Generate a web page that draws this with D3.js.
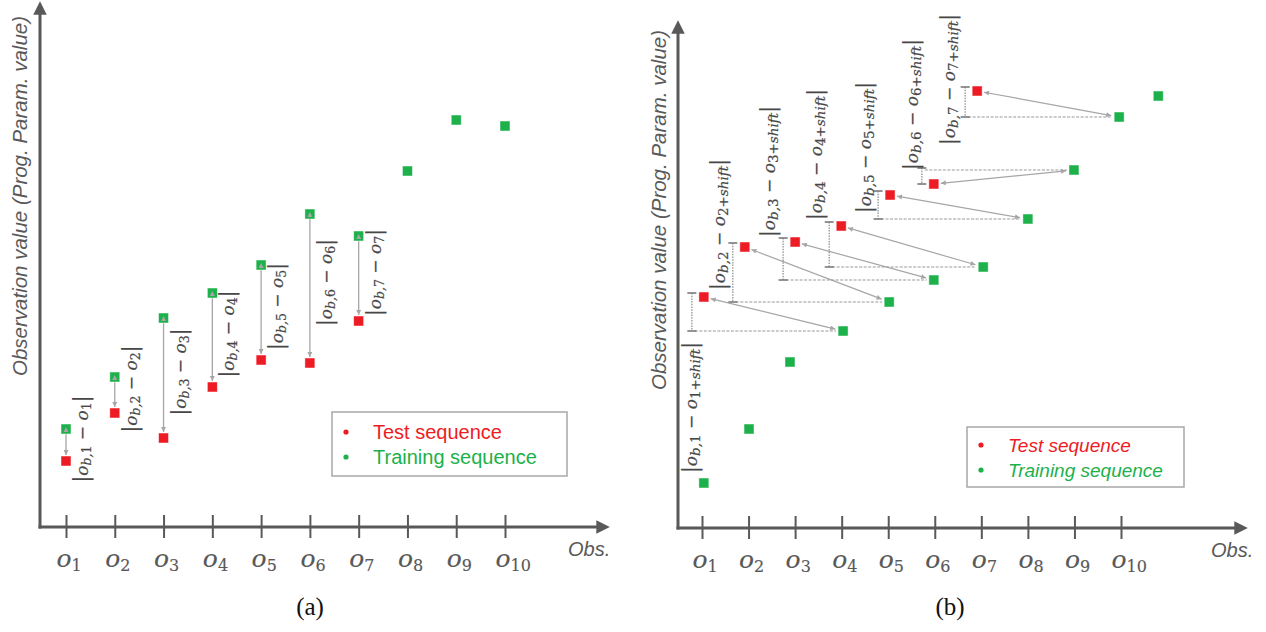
<!DOCTYPE html>
<meta charset="utf-8">
<style>
  body { margin: 0; background: #fff; }
  svg { display: block; }
</style>
<body>
<script src="https://d3js.org/d3.v7.min.js"></script>
<script>
  // observation indices shown on the x axis
  var obsIdx = [1, 2, 3, 4, 5, 6, 7, 8, 9, 10];
  var obsLabels = ["1", "2", "3", "4", "5", "6", "7", "8", "9", "10"];

  // panel (a): training and test value for each observation
  var trainA = [19.6, 30, 41.8, 46.8, 52.4, 62.6, 58.2, 71.2, 81.4, 80.2];
  var testA = [13.2, 22.8, 17.8, 28, 33.4, 32.8, 41.2];

  // panel (b): training sequence drawn slightly off-grid, test sequence matched with a shift
  var trainBx = [1.04, 2.01, 2.89, 4.03, 5.02, 5.98, 7.04, 8.0, 8.99, 9.96, 10.8];
  var trainBy = [9, 19.8, 33.2, 39.4, 45.2, 49.6, 52.2, 61.8, 71.6, 82.2, 86.4];
  var testBx = [1.04, 1.92, 3.0, 3.99, 5.04, 5.98, 6.91];
  var testBy = [46.2, 56.2, 57.2, 60.4, 66.6, 68.8, 87.4];
  var shift = 3;

  var legendItems = ["Test sequence", "Training sequence"];
  var yTitle = "Observation value (Prog. Param. value)";

  var RED = "#ed1c24", GREEN = "#1db14b", AXIS = "#595959", ANNO = "#a6a6a6";
  var mathFont = "DejaVu Serif";

  var svg = d3.select("body").append("svg")
    .attr("width", 1266)
    .attr("height", 632);

  var defs = svg.append("defs");
  defs.append("marker")
    .attr("id", "axisHead")
    .attr("viewBox", "0 0 10 10")
    .attr("refX", 2).attr("refY", 5)
    .attr("markerWidth", 4.5).attr("markerHeight", 4.5)
    .attr("markerUnits", "strokeWidth")
    .attr("orient", "auto")
    .append("path").attr("d", "M0,0L10,5L0,10Z").attr("fill", AXIS);
  defs.append("marker")
    .attr("id", "head")
    .attr("viewBox", "0 0 10 10")
    .attr("refX", 10).attr("refY", 5)
    .attr("markerWidth", 6).attr("markerHeight", 5)
    .attr("markerUnits", "userSpaceOnUse")
    .attr("orient", "auto-start-reverse")
    .append("path").attr("d", "M0,0L10,5L0,10Z").attr("fill", ANNO);

  // math label: parts = [[text, isSub, kind], ...]
  function mathText(sel, parts, size, subSize) {
    parts.forEach(function (p) {
      var t = sel.append("tspan").text(p[0]);
      if (p[2] === "bar") {
        t.attr("font-style", "normal").attr("font-size", size * 1.2)
          .attr("font-family", "DejaVu Sans").attr("stroke", "none");
      } else if (p[1]) {
        t.attr("font-size", subSize).attr("font-style", p[2] === "it" ? "italic" : "normal")
          .attr("baseline-shift", "-22%");
      } else {
        t.attr("font-size", size);
      }
    });
  }

  function drawFrame(p) {
    var g = svg.append("g");
    // axes lines with arrow heads
    g.append("line")
      .attr("x1", p.axLeft).attr("y1", p.axBottom + 1.5)
      .attr("x2", p.axLeft).attr("y2", p.axTop + 9)
      .attr("stroke", AXIS).attr("stroke-width", 3)
      .attr("marker-end", "url(#axisHead)");
    g.append("line")
      .attr("x1", p.axLeft - 1.5).attr("y1", p.axBottom)
      .attr("x2", p.axRight - 9).attr("y2", p.axBottom)
      .attr("stroke", AXIS).attr("stroke-width", 3)
      .attr("marker-end", "url(#axisHead)");

    var ax = g.append("g")
      .attr("transform", "translate(0," + p.axBottom + ")")
      .call(d3.axisBottom(p.x).tickValues(obsIdx).tickSize(11).tickFormat(""));
    ax.select(".domain").remove();
    ax.selectAll(".tick line")
      .attr("y1", -12)
      .attr("stroke", AXIS).attr("stroke-width", 2);
    ax.selectAll(".tick text").remove();
    ax.selectAll(".tick").append("text")
      .attr("x", -10).attr("y", 40)
      .attr("fill", AXIS)
      .attr("stroke", AXIS).attr("stroke-width", 0.15)
      .attr("font-family", mathFont)
      .attr("text-anchor", "start")
      .each(function (d, i) {
        var t = d3.select(this);
        t.append("tspan").text("o").attr("font-size", 25).attr("font-style", "italic");
        t.append("tspan").text(obsLabels[i]).attr("font-size", 16).attr("dy", 4);
      });

    g.append("text")
      .attr("x", p.obsX).attr("y", p.axBottom + 29)
      .attr("font-family", "Liberation Sans, Arial, sans-serif")
      .attr("font-style", "italic").attr("font-size", 20)
      .attr("fill", AXIS)
      .text("Obs.");

    g.append("text")
      .attr("transform", "translate(" + p.titleX + "," + p.titleY + ") rotate(-90)")
      .attr("text-anchor", "middle")
      .attr("font-family", "Liberation Sans, Arial, sans-serif")
      .attr("font-style", "italic").attr("font-size", 20.5)
      .attr("fill", AXIS)
      .text(yTitle);

    g.append("text")
      .attr("x", p.capX).attr("y", 615)
      .attr("text-anchor", "middle")
      .attr("font-family", "Liberation Serif, serif")
      .attr("font-size", 25)
      .attr("fill", "#111")
      .text(p.caption);

    // legend
    var lg = g.append("g").attr("transform", "translate(" + p.legX + "," + p.legY + ")");
    lg.append("rect")
      .attr("width", p.legW).attr("height", p.legH)
      .attr("fill", "#fff").attr("stroke", "#a8a8a8").attr("stroke-width", 1.5);
    legendItems.forEach(function (name, i) {
      var col = i === 0 ? RED : GREEN;
      lg.append("circle").attr("cx", 14).attr("cy", p.legRow0 - 7 + i * 25).attr("r", 2.6).attr("fill", col);
      lg.append("text")
        .attr("x", 41).attr("y", p.legRow0 + i * 25)
        .attr("font-family", "Liberation Sans, Arial, sans-serif")
        .attr("font-size", p.legFont)
        .attr("font-style", p.legItalic ? "italic" : "normal")
        .attr("fill", col)
        .text(name);
    });
    return g;
  }

  function square(g, cx, cy, col) {
    g.append("rect")
      .attr("x", cx - 5).attr("y", cy - 5)
      .attr("width", 10).attr("height", 10)
      .attr("fill", col)
      .attr("stroke", "#fff").attr("stroke-opacity", 0.6).attr("stroke-width", 0.8);
  }

  var labelFill = "#474747";

  // ---------- panel (a) ----------
  var xA = d3.scaleLinear().domain([1, 10]).range([66, 505]);
  var yA = d3.scaleLinear().domain([0, 100]).range([527, 27]);
  var gA = drawFrame({
    x: xA, axLeft: 40, axBottom: 527, axTop: 3, axRight: 608,
    obsX: 568, titleX: 27, titleY: 196, capX: 310, caption: "(a)",
    legX: 332, legY: 412, legW: 235, legH: 64, legFont: 20, legItalic: false, legRow0: 27
  });

  var annA = gA.append("g");
  testA.forEach(function (v, i) {
    var cx = xA(obsIdx[i]), yg = yA(trainA[i]), yr = yA(v);
    annA.append("line")
      .attr("x1", cx).attr("y1", yg - 2)
      .attr("x2", cx).attr("y2", yr - 6)
      .attr("stroke", ANNO).attr("stroke-width", 1.3)
      .attr("marker-start", "url(#head)").attr("marker-end", "url(#head)");
  });
  obsIdx.forEach(function (o, i) { square(annA, xA(o), yA(trainA[i]), GREEN); });
  testA.forEach(function (v, i) { square(annA, xA(obsIdx[i]), yA(v), RED); });
  testA.forEach(function (v, i) {
    var cx = xA(obsIdx[i]), yg = yA(trainA[i]);
    // arrow tip shows on top of the training square
    annA.append("path")
      .attr("d", "M" + (cx - 2.5) + "," + (yg + 3) + "L" + cx + "," + (yg - 2) + "L" + (cx + 2.5) + "," + (yg + 3) + "Z")
      .attr("fill", ANNO);
    var k = String(i + 1);
    annA.append("text")
      .attr("transform", "translate(" + (cx + 22) + "," + ((yg + yA(v)) / 2 - 6) + ") rotate(-90)")
      .attr("text-anchor", "middle")
      .attr("font-family", mathFont).attr("font-style", "italic")
      .attr("fill", labelFill).attr("stroke", labelFill).attr("stroke-width", 0.2)
      .call(mathText, [["|", 0, "bar"], ["o", 0], ["b,", 1, "it"], [k, 1], [" \u2212 ", 0], ["o", 0], [k, 1], ["|", 0, "bar"]], 17, 12.5);
  });

  // ---------- panel (b) ----------
  var xB = d3.scaleLinear().domain([1, 10]).range([702, 1121]);
  var yB = d3.scaleLinear().domain([0, 100]).range([528, 28]);
  var gB = drawFrame({
    x: xB, axLeft: 678, axBottom: 528, axTop: 22, axRight: 1246,
    obsX: 1211, titleX: 666, titleY: 210, capX: 950, caption: "(b)",
    legX: 967, legY: 427, legW: 217, legH: 60, legFont: 19, legItalic: true, legRow0: 25
  });

  // label layout relative to each test point (placement only)
  var labDx = [-7, -20, -20, -19, -19, -16, -22];
  var labDy = [176, 43, -5, -6, 18, -14, 54];

  var annB = gB.append("g");
  testBy.forEach(function (v, i) {
    var rx = xB(testBx[i]), ry = yB(v);
    var j = i + shift;
    var gx = xB(trainBx[j]), gy = yB(trainBy[j]);
    var bx = rx - 12;
    // dashed guide at training value
    annB.append("line")
      .attr("x1", bx + 3).attr("y1", gy).attr("x2", gx - 7).attr("y2", gy)
      .attr("stroke", "#9a9a9a").attr("stroke-width", 1.1).attr("stroke-dasharray", "3,1.5");
    // interval bracket
    var yTop = ry - 4, yBot = gy;
    if (gy < ry) { yTop = gy - 2; yBot = ry; }
    annB.append("line")
      .attr("x1", bx).attr("y1", yTop).attr("x2", bx).attr("y2", yBot)
      .attr("stroke", "#8a8a8a").attr("stroke-width", 1.2).attr("stroke-dasharray", "1.5,1.2");
    [yTop, yBot].forEach(function (yy) {
      annB.append("line")
        .attr("x1", bx - 4.5).attr("y1", yy).attr("x2", bx + 4.5).attr("y2", yy)
        .attr("stroke", "#7a7a7a").attr("stroke-width", 1.6);
    });
    // double arrow red -> green
    var ang = Math.atan2(gy - ry, gx - rx);
    annB.append("line")
      .attr("x1", rx + 7 * Math.cos(ang)).attr("y1", ry + 7 * Math.sin(ang))
      .attr("x2", gx - 8 * Math.cos(ang)).attr("y2", gy - 8 * Math.sin(ang))
      .attr("stroke", ANNO).attr("stroke-width", 1.2)
      .attr("marker-start", "url(#head)").attr("marker-end", "url(#head)");
    // label
    var k = String(i + 1);
    annB.append("text")
      .attr("transform", "translate(" + (rx + labDx[i]) + "," + (ry + labDy[i]) + ") rotate(-90)")
      .attr("text-anchor", "start")
      .attr("font-family", mathFont).attr("font-style", "italic")
      .attr("fill", labelFill).attr("stroke", labelFill).attr("stroke-width", 0.2)
      .call(mathText, [["|", 0, "bar"], ["o", 0], ["b,", 1, "it"], [k, 1], [" \u2212 ", 0], ["o", 0],
        [k + "+", 1], ["shift", 1, "it"], ["|", 0, "bar"]], 17, 13.5);
  });
  trainBy.forEach(function (v, i) { square(annB, xB(trainBx[i]), yB(v), GREEN); });
  testBy.forEach(function (v, i) { square(annB, xB(testBx[i]), yB(v), RED); });
</script>
</body>
